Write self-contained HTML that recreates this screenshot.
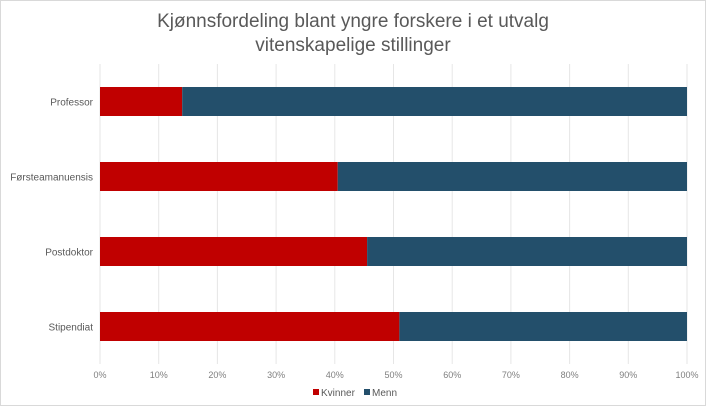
<!DOCTYPE html>
<html><head><meta charset="utf-8"><style>
body{margin:0;background:#fff;font-family:"Liberation Sans",sans-serif;}
svg text{font-family:"Liberation Sans",sans-serif;}
</style></head><body>
<svg width="706" height="406" viewBox="0 0 706 406">
<rect x="0.5" y="0.5" width="705" height="405" fill="#fff" stroke="#d9d9d9"/>
<text x="353" y="27" text-anchor="middle" font-size="19" fill="#595959">Kjønnsfordeling blant yngre forskere i et utvalg</text>
<text x="353" y="51" text-anchor="middle" font-size="19" fill="#595959">vitenskapelige stillinger</text>
<g id="grid"></g><g id="bars"></g><g id="labels"></g>
<g>
<rect x="313" y="389" width="6" height="6" fill="#c00000"/>
<text x="321" y="396" font-size="10" fill="#595959">Kvinner</text>
<rect x="364" y="389" width="6" height="6" fill="#234f6b"/>
<text x="372" y="396" font-size="10" fill="#595959">Menn</text>
</g>
</svg>
<script>
const categories=["Professor","Førsteamanuensis","Postdoktor","Stipendiat"];
const kvinner=[14,40.5,45.5,51];
const menn=[86,59.5,54.5,49];
const ticks=[0,10,20,30,40,50,60,70,80,90,100];
const NS="http://www.w3.org/2000/svg";
const x0=100,x1=687,y0=64,bandH=75;
const xs=v=>x0+(x1-x0)*v/100;
const yc=i=>y0+bandH*(i+0.5);
function mk(t,a,p){const e=document.createElementNS(NS,t);for(const k in a)e.setAttribute(k,a[k]);p.appendChild(e);return e;}
const grid=document.getElementById('grid'),bars=document.getElementById('bars'),labels=document.getElementById('labels');
ticks.forEach(t=>{
 const l=mk('line',{x1:xs(t),x2:xs(t),y1:y0,y2:y0+bandH*4,stroke:'#e6e6e6'},grid);
 
 
 const tx=mk('text',{x:xs(t),y:378,'text-anchor':'middle','font-size':'9',fill:'#7f7f7f'},labels);
 tx.textContent=t+'%';
 
 
});
categories.forEach((c,i)=>{
 const tot=kvinner[i]+menn[i];
 const h=29,y=yc(i)-h/2;
 const r1=mk('rect',{x:xs(0),y:y,width:xs(kvinner[i]/tot*100)-xs(0),height:h,fill:'#c00000'},bars);
 
 
 const r2=mk('rect',{x:xs(kvinner[i]/tot*100),y:y,width:xs(100)-xs(kvinner[i]/tot*100),height:h,fill:'#234f6b'},bars);
 
 
 const t=mk('text',{x:93,y:yc(i)+4,'text-anchor':'end','font-size':'10',fill:'#595959'},labels);
 t.textContent=c;
 
 
});
</script>
</body></html>
